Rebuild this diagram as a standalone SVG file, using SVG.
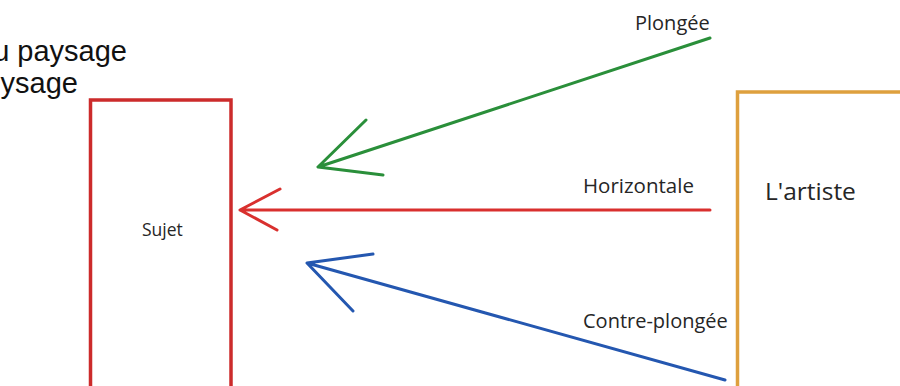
<svg xmlns="http://www.w3.org/2000/svg" width="900" height="386" viewBox="0 0 900 386">
<style>
.lbl{font-family:"Open Sans","Noto Sans",sans-serif;fill:#262626}
.arr{fill:none;stroke-width:3;stroke-linecap:round;stroke-linejoin:round}
.top{font-family:"Liberation Sans",Arial,sans-serif;font-size:29px;fill:#111}
</style>
<rect width="900" height="386" fill="#fff"/>
<g id="caption">
<text class="top" x="127" y="61" text-anchor="end">u paysage</text>
<text class="top" x="78" y="93" text-anchor="end">ysage</text>
</g>
<g id="sujet">
<rect x="90.5" y="100" width="140.5" height="300" fill="none" stroke="#cc2b2b" stroke-width="3.5"/>
<text class="lbl" x="142" y="236" font-size="17.5">Sujet</text>
</g>
<g id="artiste">
<rect x="737.5" y="92" width="180" height="310" fill="none" stroke="#dea03e" stroke-width="3.5"/>
<text class="lbl" x="765" y="200" font-size="24.5">L'artiste</text>
</g>
<g id="connectors">
<g id="plongee">
<path class="arr" stroke="#2a8f3a" d="M710 38 L318 167 M366 120 L318 167 L383 175"/>
<text class="lbl" x="635" y="30" font-size="20">Plongée</text>
</g>
<g id="horizontale">
<path class="arr" stroke="#d9302e" d="M710 210 L240 210 M280 189 L240 210 L277 230"/>
<text class="lbl" x="583" y="193" font-size="20.5">Horizontale</text>
</g>
<g id="contre-plongee">
<path class="arr" stroke="#2457b0" d="M725 380 L307 263 M373 254 L307 263 L353 311"/>
<text class="lbl" x="583" y="328" font-size="20">Contre-plongée</text>
</g>
</g>
</svg>
